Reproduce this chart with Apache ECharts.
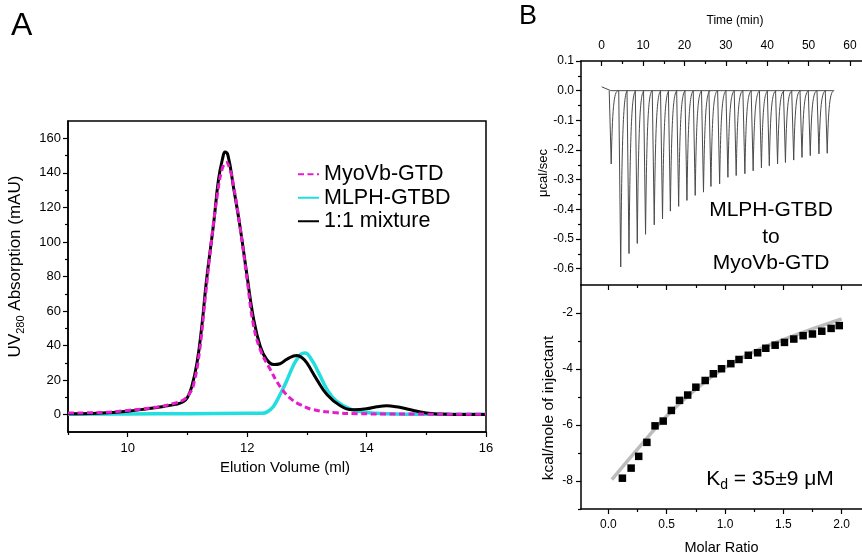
<!DOCTYPE html>
<html>
<head>
<meta charset="utf-8">
<script src="https://cdn.jsdelivr.net/npm/echarts@6/dist/echarts.min.js"></script>
<style>html,body{margin:0;padding:0;background:#fff}#c{width:862px;height:555px}</style>
</head>
<body>
<div id="c"></div>
<script>
// ---------- Panel A data (elution profiles) ----------
const mixX = [9.0, 9.4, 9.8, 10.0, 10.3, 10.6, 10.8, 10.93, 11.0, 11.07, 11.16, 11.24, 11.32, 11.44, 11.52, 11.59, 11.63, 11.68, 11.77, 11.88, 12.0, 12.1, 12.22, 12.33, 12.45, 12.55, 12.67, 12.83, 12.92, 13.0, 13.17, 13.34, 13.56, 13.78, 14.0, 14.17, 14.34, 14.5, 14.68, 15.0, 15.4, 16.0];
const mixY = [0.5, 0.7, 1.4, 2.0, 3.3, 4.8, 6.0, 7.5, 10, 16, 30, 51, 78, 111, 136, 148.5, 152, 150, 132, 109, 80, 57, 39.5, 31.8, 29, 29.5, 32.2, 34.3, 33, 30, 20.2, 11.6, 5.2, 2.9, 3.4, 4.6, 5.2, 4.6, 3.3, 1.0, 0.2, 0.1];
const myoX = [9.0, 9.5, 10.0, 10.5, 10.8, 10.95, 11.03, 11.1, 11.2, 11.3, 11.4, 11.5, 11.58, 11.65, 11.72, 11.77, 11.88, 12.0, 12.1, 12.22, 12.39, 12.55, 12.72, 12.89, 13.11, 13.45, 13.84, 14.5, 16.0];
const myoY = [1.0, 1.2, 2.5, 4.5, 6.8, 9, 12, 17, 36, 68, 100, 127, 142, 146, 141, 133, 109, 78, 53, 37.6, 26, 16.4, 9.6, 5.8, 2.9, 1.3, 0.6, 0.4, 0.3];
const mlphX = [9.0, 10.0, 11.0, 12.0, 12.25, 12.33, 12.44, 12.55, 12.67, 12.78, 12.89, 12.97, 13.08, 13.2, 13.34, 13.5, 13.73, 14.0, 14.34, 15.0, 16.0];
const mlphY = [0.3, 0.4, 0.6, 0.8, 0.9, 1.5, 4.8, 11.6, 20.2, 28.9, 34.7, 35.7, 31.8, 24.1, 14.5, 7.7, 3.3, 1.3, 0.6, 0.3, 0.3];
const seriesNamesA = ['MyoVb-GTD', 'MLPH-GTBD', '1:1 mixture'];

// ---------- Panel B data (ITC) ----------
const peakTimes = [2.3, 4.6, 6.6, 8.6, 10.6, 12.7, 14.7, 16.6, 18.6, 20.6, 22.6, 24.6, 26.4, 28.5, 30.5, 32.5, 34.6, 36.6, 38.6, 40.5, 42.5, 44.4, 46.4, 48.4, 50.4, 52.5, 54.5];
const peakDepths = [-0.247, -0.594, -0.549, -0.515, -0.484, -0.452, -0.432, -0.406, -0.39, -0.37, -0.353, -0.342, -0.323, -0.314, -0.292, -0.286, -0.28, -0.27, -0.26, -0.253, -0.247, -0.242, -0.234, -0.225, -0.219, -0.213, -0.211];
const baselineT = [0.0, 2.2, 56.0];
const baselineV = [0.013, 0.0, 0.0];
const molarRatio = [0.12, 0.195, 0.26, 0.33, 0.40, 0.47, 0.54, 0.61, 0.68, 0.75, 0.83, 0.90, 0.97, 1.05, 1.12, 1.20, 1.28, 1.35, 1.43, 1.51, 1.59, 1.67, 1.75, 1.83, 1.91, 1.98];
const heat = [-7.9, -7.54, -7.12, -6.62, -6.03, -5.86, -5.48, -5.12, -4.93, -4.65, -4.41, -4.17, -3.99, -3.81, -3.66, -3.51, -3.42, -3.26, -3.15, -3.05, -2.93, -2.81, -2.75, -2.65, -2.55, -2.45];
const fitX = [0.03, 0.25, 0.5, 0.75, 1.0, 1.25, 1.5, 1.75, 2.0];
const fitY = [-7.95, -6.86, -5.68, -4.72, -3.95, -3.38, -2.95, -2.57, -2.21];

// ---------- Tick values ----------
const xTicksA = [10, 12, 14, 16];
const xMinorA = [9, 11, 13, 15];
const yTicksA = [0, 20, 40, 60, 80, 100, 120, 140, 160];
const yMinorA = [10, 30, 50, 70, 90, 110, 130, 150];
const timeTicks = [0, 10, 20, 30, 40, 50, 60];
const timeMinor = [5, 15, 25, 35, 45, 55];
const powerTicks = [0.1, 0.0, -0.1, -0.2, -0.3, -0.4, -0.5, -0.6];
const powerMinor = [0.05, -0.05, -0.15, -0.25, -0.35, -0.45, -0.55];
const ratioTicks = [0, 0.5, 1.0, 1.5, 2.0];
const ratioMinor = [0.25, 0.75, 1.25, 1.75];
const heatTicks = [-2, -4, -6, -8];
const heatMinor = [-3, -5, -7, -9];

const FONT = '"Liberation Sans", Arial, Helvetica, sans-serif';
const zip = (a, b) => a.map((v, i) => [v, b[i]]);

function axis(p) {
  const a = {
    type: 'value', gridIndex: p.grid, position: p.pos, min: p.min, max: p.max,
    axisLine: { show: !!p.line, onZero: false, lineStyle: { color: '#000', width: 1.5 } },
    axisTick: { show: !!p.ticks, customValues: p.ticks || [], length: p.len || 5, inside: !!p.inside, lineStyle: { color: '#000', width: 1.2 } },
    axisLabel: p.label ? { show: true, customValues: p.ticks, color: '#000', fontFamily: FONT, fontSize: p.label.size, margin: p.label.margin, formatter: p.label.fmt || (v => String(v)) } : { show: false },
    splitLine: { show: false },
    minorTick: { show: false },
    axisPointer: { show: false },
    silent: true
  };
  if (p.name) {
    a.name = p.name;
    a.nameLocation = 'middle';
    a.nameGap = p.nameGap;
    a.nameTextStyle = Object.assign({ color: '#000', fontFamily: FONT, fontSize: p.nameSize }, p.nameStyle || {});
  }
  return a;
}

const chart = echarts.init(document.getElementById('c'), null, { renderer: 'canvas' });

const option = {
  backgroundColor: '#fff',
  animation: false,
  grid: [
    { left: 68, top: 121, width: 418, height: 311, show: true, borderColor: '#000', borderWidth: 1.5, backgroundColor: 'transparent', containLabel: false, outerBoundsMode: 'none' },
    { left: 581, top: 61, width: 281, height: 224, containLabel: false, outerBoundsMode: 'none' },
    { left: 581, top: 285, width: 281, height: 224, containLabel: false, outerBoundsMode: 'none' }
  ],
  xAxis: [
    axis({ grid: 0, pos: 'bottom', min: 9, max: 16, line: true, ticks: xTicksA, len: 5,
      label: { size: 13, margin: 10 },
      name: 'Elution Volume (ml)', nameGap: 28, nameSize: 15, nameStyle: { padding: [0, 0, 0, 16] } }),
    axis({ grid: 0, pos: 'bottom', min: 9, max: 16, ticks: xMinorA, len: 3 }),
    axis({ grid: 1, pos: 'top', min: -5, max: 62.9, line: true, ticks: timeTicks, len: 5, inside: true,
      label: { size: 12, margin: 9 },
      name: 'Time (min)', nameGap: 34, nameSize: 12, nameStyle: { padding: [0, 0, 0, 27] } }),
    axis({ grid: 1, pos: 'top', min: -5, max: 62.9, ticks: timeMinor, len: 3, inside: true }),
    axis({ grid: 2, pos: 'bottom', min: -0.235, max: 2.175, line: true, ticks: ratioTicks, len: 5,
      label: { size: 12, margin: 10, fmt: v => v.toFixed(1) },
      name: 'Molar Ratio', nameGap: 31, nameSize: 14.5 }),
    axis({ grid: 2, pos: 'bottom', min: -0.235, max: 2.175, ticks: ratioMinor, len: 3 }),
    axis({ grid: 2, pos: 'top', min: -0.235, max: 2.175, line: true, ticks: ratioTicks, len: 5, inside: true }),
    axis({ grid: 2, pos: 'top', min: -0.235, max: 2.175, ticks: ratioMinor, len: 3, inside: true })
  ],
  yAxis: [
    axis({ grid: 0, pos: 'left', min: -10, max: 170, line: true, ticks: yTicksA, len: 5,
      label: { size: 13, margin: 7 },
      name: '{a|UV}{s|280}{a| Absorption (mAU)}', nameGap: 42, nameSize: 17,
      nameStyle: { padding: [0, 0, 0, 20], rich: {
        a: { fontFamily: FONT, fontSize: 17, color: '#000', lineHeight: 22 },
        s: { fontFamily: FONT, fontSize: 11, color: '#000', lineHeight: 12, verticalAlign: 'bottom' } } } }),
    axis({ grid: 0, pos: 'left', min: -10, max: 170, ticks: yMinorA, len: 3 }),
    axis({ grid: 1, pos: 'left', min: -0.655, max: 0.1, line: true, ticks: powerTicks, len: 5,
      label: { size: 12, margin: 7, fmt: v => v.toFixed(1) },
      name: 'μcal/sec', nameGap: 30, nameSize: 13 }),
    axis({ grid: 1, pos: 'left', min: -0.655, max: 0.1, ticks: powerMinor, len: 3 }),
    axis({ grid: 2, pos: 'left', min: -9, max: -1, line: true, ticks: heatTicks, len: 5,
      label: { size: 12, margin: 8, fmt: v => String(v) },
      name: 'kcal/mole of injectant', nameGap: 24, nameSize: 15.5, nameStyle: { padding: [0, 22, 0, 0] } }),
    axis({ grid: 2, pos: 'left', min: -9, max: -1, ticks: heatMinor, len: 3 })
  ],
  legend: {
    data: seriesNamesA,
    orient: 'vertical',
    left: 292, top: 158,
    itemWidth: 21, itemHeight: 12, itemGap: 1,
    selectedMode: false,
    itemStyle: { color: 'rgba(0,0,0,0)', borderWidth: 0, opacity: 0 },
    textStyle: { fontFamily: FONT, fontSize: 21.5, color: '#000', lineHeight: 22.5 }
  },
  series: [
    { name: seriesNamesA[1], type: 'line', xAxisIndex: 0, yAxisIndex: 0, data: zip(mlphX, mlphY),
      symbol: 'none', smooth: 0.45, lineStyle: { color: '#22dede', width: 3.5 }, itemStyle: { color: '#22dede' }, z: 2, silent: true },
    { name: seriesNamesA[2], type: 'line', xAxisIndex: 0, yAxisIndex: 0, data: zip(mixX, mixY),
      symbol: 'none', smooth: 0.45, lineStyle: { color: '#000', width: 3 }, itemStyle: { color: '#000' }, z: 3, silent: true },
    { name: seriesNamesA[0], type: 'line', xAxisIndex: 0, yAxisIndex: 0, data: zip(myoX, myoY),
      symbol: 'none', smooth: 0.45, lineStyle: { color: '#e61ccc', width: 3, type: [6, 3.5] }, itemStyle: { color: '#e61ccc' }, z: 4, silent: true },

    { name: 'baseline', type: 'line', xAxisIndex: 2, yAxisIndex: 2, data: zip(baselineT, baselineV),
      symbol: 'none', lineStyle: { color: '#4a4a4a', width: 1 }, silent: true },
    { name: 'injections', type: 'custom', xAxisIndex: 2, yAxisIndex: 2, data: zip(peakTimes, peakDepths), silent: true,
      renderItem: function (params, api) {
        const t = api.value(0), d = api.value(1);
        const b = api.coord([t, d]);
        const z = api.coord([t, 0]);
        const h = b[1] - z[1];
        const path = 'M' + (b[0] - 2) + ' ' + z[1] +
          ' L' + b[0] + ' ' + b[1] +
          ' C' + (b[0] + 1.2) + ' ' + (b[1] - 0.75 * h) + ' ' + (b[0] + 2.6) + ' ' + z[1] + ' ' + (b[0] + 7) + ' ' + z[1];
        return { type: 'path', shape: { pathData: path }, style: { fill: 'none', stroke: '#4a4a4a', lineWidth: 1 } };
      } },

    { name: 'fit', type: 'line', xAxisIndex: 4, yAxisIndex: 4, data: zip(fitX, fitY),
      symbol: 'none', smooth: 0.4, lineStyle: { color: '#bcbcbc', width: 3.5 }, z: 2, silent: true },
    { name: 'heat', type: 'scatter', xAxisIndex: 4, yAxisIndex: 4, data: zip(molarRatio, heat),
      symbol: 'rect', symbolSize: 7.5, itemStyle: { color: '#000', opacity: 1 }, z: 3, silent: true }
  ],
  graphic: [
    { type: 'text', left: 11, top: 10, style: { text: 'A', fontFamily: FONT, fontSize: 32, fill: '#000' } },
    { type: 'text', left: 519, top: 3, style: { text: 'B', fontFamily: FONT, fontSize: 27, fill: '#000' } },
    { type: 'text', x: 771, y: 237, style: { text: 'MLPH-GTBD\nto\nMyoVb-GTD', fontFamily: FONT, fontSize: 21, lineHeight: 26.5, fill: '#000', align: 'center', verticalAlign: 'middle', textAlign: 'center', textVerticalAlign: 'middle' } },
    { type: 'text', x: 770, y: 479, style: { text: '{k|K}{s|d}{k| = 35±9 μM}', fill: '#000', align: 'center', verticalAlign: 'middle', textAlign: 'center', textVerticalAlign: 'middle',
      rich: { k: { fontFamily: FONT, fontSize: 21, fill: '#000', lineHeight: 26 }, s: { fontFamily: FONT, fontSize: 14, fill: '#000', lineHeight: 16, verticalAlign: 'bottom' } } } }
  ]
};
chart.setOption(option);
</script>
</body>
</html>
